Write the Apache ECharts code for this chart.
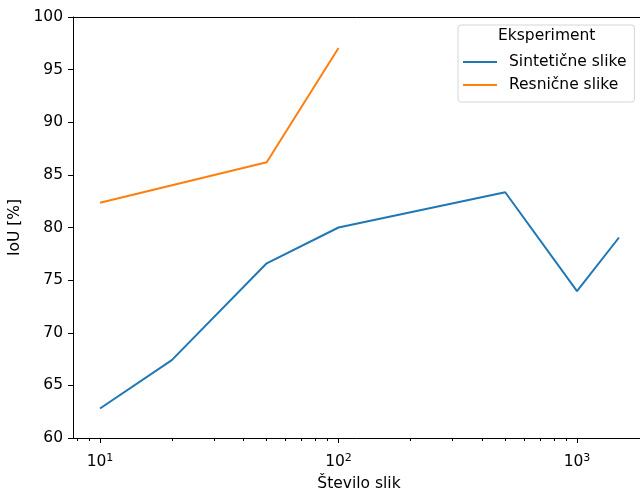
<!DOCTYPE html>
<html><head><meta charset="utf-8">
<script src="https://cdn.jsdelivr.net/npm/echarts@6/dist/echarts.min.js"></script>
<style>html,body{margin:0;padding:0;background:#fff;overflow:hidden}#c{width:640px;height:489px}</style>
</head><body><div id="c"></div>
<script>
const sintX = [10, 20, 50, 100, 500, 1000, 1500];
const sintY = [62.8, 67.4, 76.6, 80.0, 83.35, 73.95, 79.05];
const resX = [10, 50, 100];
const resY = [82.35, 86.2, 97.05];
const majorTicks = [10, 100, 1000];
const minorTicks = [8, 9, 20, 30, 40, 50, 60, 70, 80, 90, 200, 300, 400, 500, 600, 700, 800, 900];
const seriesNames = ['Sintetične slike', 'Resnične slike'];
const legendTitle = 'Eksperiment';
const xName = 'Število slik';
const yName = 'IoU [%]';

const FONT = 'DejaVu Sans';
const FS = 15.5;
const chart = echarts.init(document.getElementById('c'), null, {renderer: 'canvas'});
const xmin = 7.705, xmax = 1928;
const spine = {show: true, onZero: false, lineStyle: {color: '#000', width: 1}};
chart.setOption({
  animation: false,
  textStyle: {fontFamily: FONT},
  grid: {left: 73, right: -5, top: 17, bottom: 51, containLabel: false, outerBoundsMode: 'none'},
  xAxis: [{
    type: 'log', logBase: 10, min: xmin, max: xmax,
    name: xName, nameLocation: 'middle', nameGap: 31,
    nameTextStyle: {fontSize: FS, color: '#000', fontFamily: FONT},
    axisLine: spine,
    axisTick: {show: true, length: 5, lineStyle: {color: '#000', width: 1}, customValues: majorTicks},
    splitLine: {show: false},
    minorTick: {show: false},
    axisLabel: {
      customValues: majorTicks, margin: 15, color: '#000',
      formatter: v => '{b|10}{s|' + Math.round(Math.log10(v)) + '}',
      rich: {
        b: {fontSize: FS, fontFamily: FONT, color: '#000', lineHeight: 18},
        s: {fontSize: 11, fontFamily: FONT, color: '#000', padding: [0, 0, 8, 0], lineHeight: 18}
      }
    }
  }, {
    type: 'log', logBase: 10, min: xmin, max: xmax, position: 'bottom',
    axisLine: {show: false},
    axisTick: {show: true, length: 3, lineStyle: {color: '#000', width: 1}, customValues: minorTicks},
    axisLabel: {show: false},
    splitLine: {show: false}
  }, {
    type: 'log', logBase: 10, min: xmin, max: xmax, position: 'top',
    axisLine: spine, axisTick: {show: false}, axisLabel: {show: false}, splitLine: {show: false}
  }],
  yAxis: [{
    type: 'value', min: 60, max: 100, interval: 5,
    name: yName, nameLocation: 'middle', nameGap: 47, nameRotate: 90,
    nameTextStyle: {fontSize: FS, color: '#000', fontFamily: FONT},
    axisLine: spine,
    axisTick: {show: true, length: 5, lineStyle: {color: '#000', width: 1}},
    axisLabel: {fontSize: FS, color: '#000', margin: 10, fontFamily: FONT},
    splitLine: {show: false}
  }],
  legend: {
    orient: 'vertical', left: 458, top: 25,
    padding: [28, 8, 8, 5], itemGap: 5,
    itemWidth: 34, itemHeight: 2, icon: 'rect',
    borderColor: '#d6d6d6', borderWidth: 1, borderRadius: 3,
    textStyle: {fontSize: FS, color: '#000', fontFamily: FONT, lineHeight: 18, padding: [0, 0, 0, 7]},
    data: seriesNames
  },
  graphic: [{
    type: 'text', left: 498, top: 28,
    style: {text: legendTitle, fontSize: FS, fontFamily: FONT, fill: '#000'}
  }],
  series: [{
    name: seriesNames[0], type: 'line', xAxisIndex: 0, yAxisIndex: 0,
    data: sintX.map((x, i) => [x, sintY[i]]),
    showSymbol: false, symbol: 'none',
    lineStyle: {color: '#1f77b4', width: 2}, itemStyle: {color: '#1f77b4'}
  }, {
    name: seriesNames[1], type: 'line', xAxisIndex: 0, yAxisIndex: 0,
    data: resX.map((x, i) => [x, resY[i]]),
    showSymbol: false, symbol: 'none',
    lineStyle: {color: '#ff7f0e', width: 2}, itemStyle: {color: '#ff7f0e'}
  }]
});
</script></body></html>
